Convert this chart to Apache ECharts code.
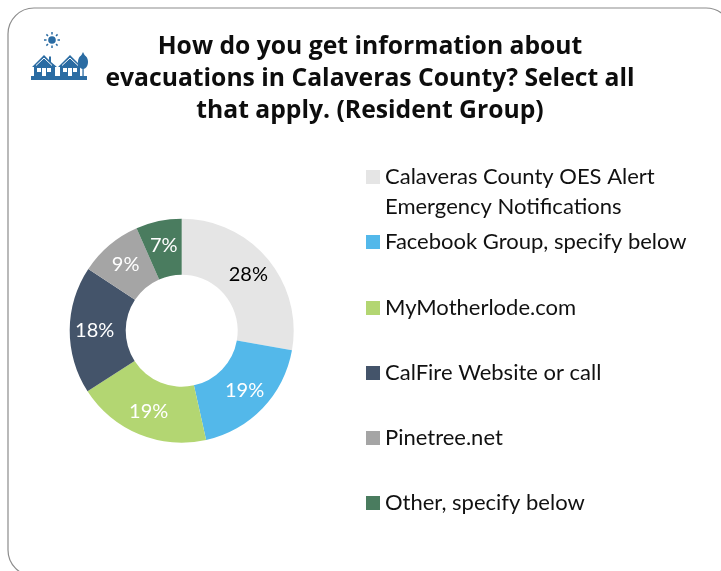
<!DOCTYPE html>
<html><head><meta charset="utf-8">
<style>html,body{margin:0;padding:0;background:#fff}#c{width:721px;height:571px}</style>
<script src="https://cdn.jsdelivr.net/npm/echarts@6/dist/echarts.min.js"></script>
</head><body><div id="c"></div>
<script>
const titleLines = ['How do you get information about','evacuations in Calaveras County? Select all','that apply. (Resident Group)'];
const categories = ['Calaveras County OES Alert Emergency Notifications','Facebook Group, specify below','MyMotherlode.com','CalFire Website or call','Pinetree.net','Other, specify below'];
const values = [27.8,18.7,19.4,18.4,9.1,6.6];
const colors = ['#E5E5E5','#53B8EA','#B3D672','#44546A','#A5A5A5','#4A7C5F'];
const labelColors = ['#000000','#ffffff','#ffffff','#ffffff','#ffffff','#ffffff'];
const legendTops = [162,227,293,358,423,488];
const chart = echarts.init(document.getElementById('c'),null,{renderer:'canvas'});
const blue='#2B6CA3';
const legends = categories.map((n,i)=>({
  data:[n], orient:'vertical', left:366, top:legendTops[i], padding:0,
  itemWidth:14, itemHeight: i===0?44:14, itemGap:0, selectedMode:false,
  icon: i===0 ? 'path://M0 0H14V14H0Z M0 44H0.01V44H0Z' : 'rect',
  textStyle:{fontFamily:'Lato',fontSize:22,color:'#111111',lineHeight:30},
  formatter:(name)=> name===categories[0] ? 'Calaveras County OES Alert\nEmergency Notifications' : name
}));
const poly=(pts,fill)=>({type:'polygon',shape:{points:pts},style:{fill}});
const line=(x1,y1,x2,y2)=>({type:'line',shape:{x1,y1,x2,y2},style:{stroke:blue,lineWidth:1.5}});
const win=(x,y,w,h)=>({type:'rect',shape:{x,y,width:w,height:h},style:{fill:'#fff'}});
const roof=(pts)=>({type:'polyline',shape:{points:pts},style:{fill:'none',stroke:'#fff',lineWidth:1}});
chart.setOption({
  animation:false,
  backgroundColor:'#fff',
  title:titleLines.map((t,i)=>({text:t,left:370,top:34+i*32,textAlign:'center',padding:0,
    textStyle:{fontFamily:'Open Sans',fontWeight:700,fontSize:24.7,color:'#0d0d0d'}})),
  legend:legends,
  series:[{
    type:'pie',center:[181.7,330.7],radius:[56,112],startAngle:90,clockwise:true,
    avoidLabelOverlap:false,
    label:{show:true,position:'inside',formatter:(p)=>Math.round(p.value)+'%',fontFamily:'Lato',fontSize:20},
    labelLine:{show:false},
    data:categories.map((n,i)=>({name:n,value:values[i],itemStyle:{color:colors[i]},label:{color:labelColors[i]}}))
  }],
  graphic:[
    {type:'rect',shape:{x:8,y:8,width:724,height:568,r:26},style:{fill:'none',stroke:'#8c8c8c',lineWidth:1.2},silent:true,z:-1},
    {type:'group',silent:true,children:[
      {type:'circle',shape:{cx:52,cy:40,r:3.8},style:{fill:blue}},
      line(52,32,52,34.5),line(52,45.5,52,48),line(44,40,46.5,40),line(57.5,40,60,40),
      line(46.4,34.4,48,36),line(56,44,57.6,45.6),line(57.6,34.4,56,36),line(48,44,46.4,45.6),
      {type:'rect',shape:{x:31,y:76,width:56,height:4},style:{fill:blue}},
      poly([[32,67],[44,55],[49,60],[49,56.5],[51,56.5],[51,62],[57,67],[55,67],[55,76],[34,76],[34,67]],blue),
      poly([[58,67],[70,55],[82,67],[80,67],[80,76],[60,76],[60,67]],blue),
      roof([[36,65.5],[44,58],[52,65.5]]),roof([[62,65.5],[70,58],[78,65.5]]),
      win(37,68,4,4),win(42,68,4,8),win(47,68,4,4),win(63,68,4,4),win(68,68,4,8),win(73,68,4,4),
      {type:'ellipse',shape:{cx:83,cy:62,rx:5,ry:7},style:{fill:blue}},
      poly([[83,52],[79,60],[87,60]],blue),
      {type:'rect',shape:{x:82.4,y:67,width:1.3,height:10},style:{fill:blue}}
    ]}
  ]
});
</script></body></html>
